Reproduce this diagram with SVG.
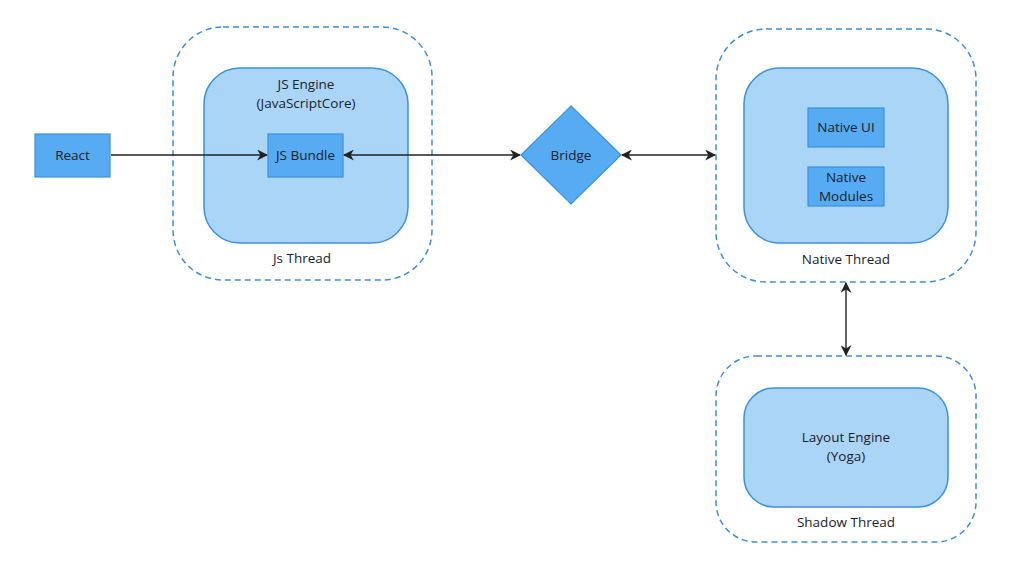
<svg xmlns="http://www.w3.org/2000/svg" width="1024" height="563" viewBox="0 0 1024 563">
<style>
.thread{fill:#fff;stroke:#3b8fdc;stroke-width:1.5;stroke-dasharray:6 4}
.engine{fill:#abd5f7;stroke:#3a92e0;stroke-width:1.5}
.box{fill:#56abf2;stroke:#3a92e0;stroke-width:1.2}
.t{font-family:"Open Sans","Liberation Sans",sans-serif;font-size:13.5px;fill:#1a222c;text-anchor:middle}
.c{stroke:#222;stroke-width:1.4;fill:none}
</style>
<defs>
<marker id="ah" viewBox="0 0 10 10" refX="9" refY="5" markerWidth="11" markerHeight="11" markerUnits="userSpaceOnUse" orient="auto-start-reverse">
<path d="M0,0 L10,5 L0,10 L3,5 Z" fill="#222"/>
</marker>
</defs>
<rect width="1024" height="563" fill="#fff"/>
<g id="js-thread">
<rect class="thread" x="173" y="27" width="259" height="253" rx="50"/>
<text class="t" x="302" y="263">Js Thread</text>
</g>
<g id="js-engine">
<rect class="engine" x="204" y="68" width="204" height="175" rx="36"/>
<text class="t" x="306" y="89">JS Engine</text>
<text class="t" x="306" y="108">(JavaScriptCore)</text>
</g>
<g id="react">
<rect class="box" x="35" y="134" width="75" height="43"/>
<text class="t" x="72.5" y="160">React</text>
</g>
<g id="js-bundle">
<rect class="box" x="268" y="134" width="75" height="43"/>
<text class="t" x="305.5" y="160">JS Bundle</text>
</g>
<g id="bridge">
<polygon class="box" points="571,106 621,155 571,204 521,155"/>
<text class="t" x="571" y="160">Bridge</text>
</g>
<g id="native-thread">
<rect class="thread" x="716" y="29" width="260" height="253" rx="50"/>
<text class="t" x="846" y="264">Native Thread</text>
</g>
<g id="native-engine">
<rect class="engine" x="744" y="68" width="204" height="175" rx="36"/>
</g>
<g id="native-ui">
<rect class="box" x="808" y="108" width="76" height="39"/>
<text class="t" x="846" y="132">Native UI</text>
</g>
<g id="native-modules">
<rect class="box" x="808" y="167" width="76" height="39"/>
<text class="t" x="846" y="182">Native</text>
<text class="t" x="846" y="201">Modules</text>
</g>
<g id="shadow-thread">
<rect class="thread" x="716" y="356" width="260" height="186" rx="40"/>
<text class="t" x="846" y="527">Shadow Thread</text>
</g>
<g id="layout-engine">
<rect class="engine" x="744" y="388" width="204" height="119" rx="30"/>
<text class="t" x="846" y="442">Layout Engine</text>
<text class="t" x="846" y="461">(Yoga)</text>
</g>
<g id="connectors">
<line class="c" x1="111" y1="155" x2="267" y2="155" marker-end="url(#ah)"/>
<line class="c" x1="344" y1="155" x2="520" y2="155" marker-start="url(#ah)" marker-end="url(#ah)"/>
<line class="c" x1="622" y1="155" x2="715" y2="155" marker-start="url(#ah)" marker-end="url(#ah)"/>
<line class="c" x1="846" y1="283" x2="846" y2="355" marker-start="url(#ah)" marker-end="url(#ah)"/>
</g>
</svg>
